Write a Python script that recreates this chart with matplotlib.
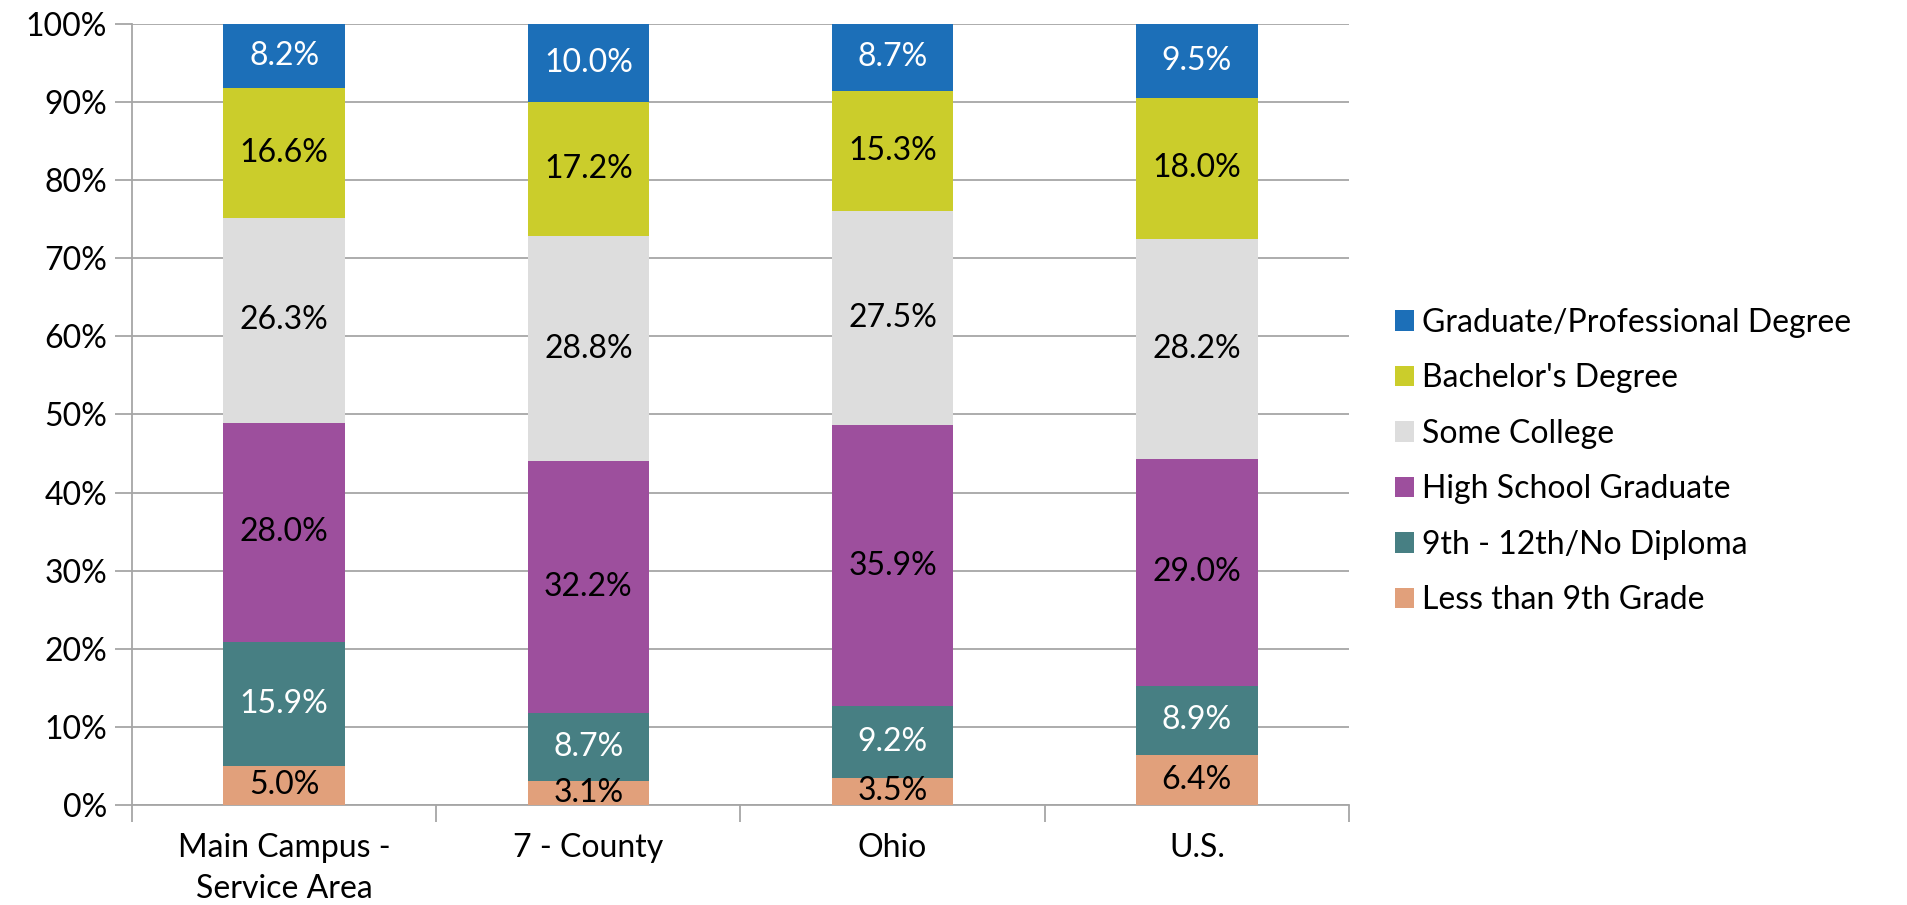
import matplotlib
matplotlib.use("Agg")
import matplotlib.pyplot as plt
import numpy as np

categories = ["Main Campus -\nService Area", "7 - County", "Ohio", "U.S."]
series_names = ["Less than 9th Grade", "9th - 12th/No Diploma", "High School Graduate",
                "Some College", "Bachelor's Degree", "Graduate/Professional Degree"]
less_9th = [5.0, 3.1, 3.5, 6.4]
no_diploma = [15.9, 8.7, 9.2, 8.9]
hs_grad = [28.0, 32.2, 35.9, 29.0]
some_college = [26.3, 28.8, 27.5, 28.2]
bachelors = [16.6, 17.2, 15.3, 18.0]
graduate = [8.2, 10.0, 8.7, 9.5]
yticks = [0, 10, 20, 30, 40, 50, 60, 70, 80, 90, 100]

series = [less_9th, no_diploma, hs_grad, some_college, bachelors, graduate]
colors = ["#E1A07B", "#477F83", "#9D4F9D", "#DDDDDD", "#CBCD2B", "#1C6FB8"]
label_colors = ["black", "white", "black", "black", "black", "white"]

plt.rcParams['font.family'] = ['Lato', 'DejaVu Sans']
fig = plt.figure(figsize=(19.08, 9.05), dpi=100)
ax = fig.add_axes([0.0692, 0.1105, 0.6378, 0.863])

FS = 23
x = np.arange(len(categories))
bottom = np.zeros(len(categories))
handles = []
for vals, c, lc, name in zip(series, colors, label_colors, series_names):
    vals = np.array(vals)
    b = ax.bar(x, vals, 0.4, bottom=bottom, color=c, label=name, zorder=3)
    handles.append(b)
    for xi, v, bt in zip(x, vals, bottom):
        ax.text(xi, bt + v / 2, f"{v:.1f}%", ha="center", va="center",
                color=lc, fontsize=FS, zorder=4)
    bottom = bottom + vals

ax.set_xlim(-0.5, len(categories) - 0.5)
ax.set_ylim(0, 100)
ax.set_yticks(yticks)
ax.set_yticklabels([f"{t}%" for t in yticks], fontsize=FS)
ax.yaxis.grid(True, color="#A6A6A6", linewidth=1.3, zorder=0)
ax.set_xticks(x)
ax.set_xticklabels(categories, fontsize=FS, linespacing=1.45)
ax.set_xticks(np.arange(-0.5, len(categories)), minor=True)
ax.tick_params(axis="x", which="major", length=0, pad=20)
ax.tick_params(axis="x", which="minor", length=12, color="#A6A6A6", width=1.3)
ax.tick_params(axis="y", length=12, color="#A6A6A6", width=1.3, pad=6)
for s in ["top", "right"]:
    ax.spines[s].set_visible(False)
for s in ["left", "bottom"]:
    ax.spines[s].set_color("#A6A6A6")
    ax.spines[s].set_linewidth(1.3)

leg = fig.legend(handles[::-1], series_names[::-1], loc="center left",
                 bbox_to_anchor=(0.716, 0.49), frameon=False, fontsize=FS,
                 handlelength=0.6, handleheight=0.6, handletextpad=0.25,
                 labelspacing=0.8)

fig.savefig("out.png", dpi=100)
